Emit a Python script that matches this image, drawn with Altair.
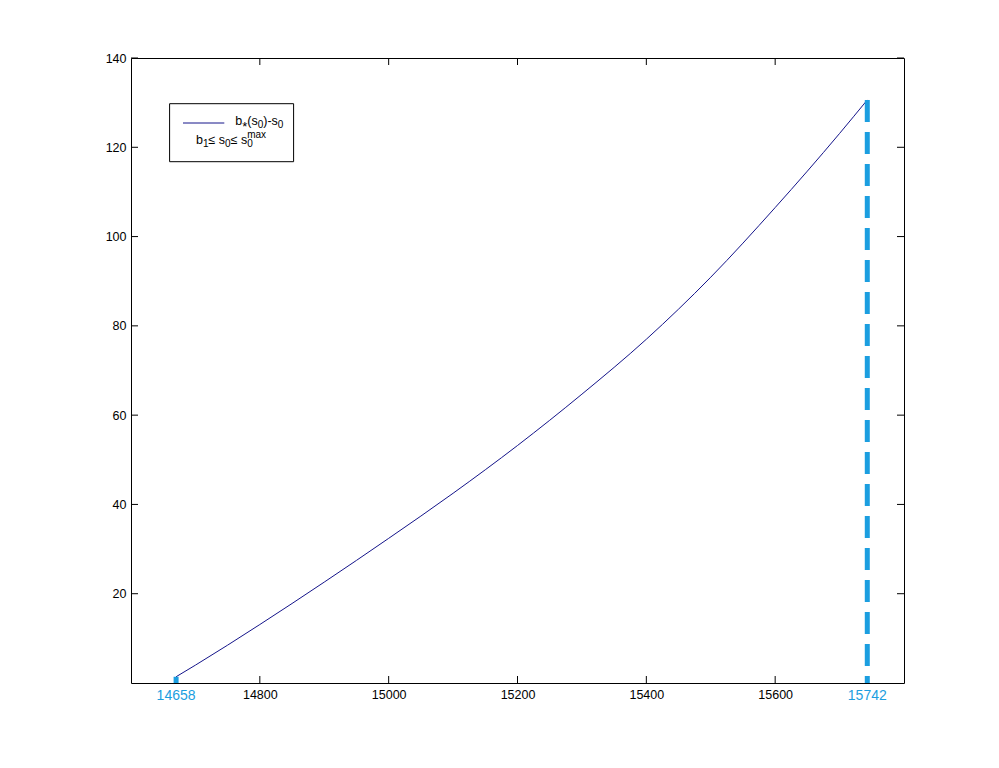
import altair as alt
import pandas as pd

# curve b*(s0) - s0
s0 = [14670, 14700, 14800, 14900, 15000, 15100, 15200, 15300, 15400, 15500, 15600, 15700, 15743]
gap = [1.4, 4.0, 13.1, 22.6, 32.4, 42.5, 53.2, 64.7, 77.0, 90.9, 106.5, 123.1, 130.6]

x_ticks = [14800, 15000, 15200, 15400, 15600]
y_ticks = [20, 40, 60, 80, 100, 120, 140]

bound_x = [14670, 15743]
bound_y = [1.4, 130.6]
bound_labels = ["14658", "15742"]

# legend text pieces: (text, kind) where kind is main / sub / sup / star
legend_line = [("b", "main"), ("*", "star"), ("(s", "main"), ("0", "sub"), (")-s", "main"), ("0", "sub")]
legend_range = [("b", "main"), ("1", "sub"), ("≤ s", "main"), ("0", "sub"), ("≤ s", "main"),
                ("0", "sub"), ("max", "sup")]

W, H = 773, 625
NAVY = "#14148a"
BLUE = "#1b9ee0"
FONT = "Liberation Sans"
SIZES = {"main": 12.5, "sub": 10, "sup": 10, "star": 13}
ADV = {"b": 0.556, "s": 0.5, "(": 0.333, ")": 0.333, "-": 0.333, "0": 0.556, "1": 0.556,
       "*": 0.389, "≤": 0.548, " ": 0.278, "m": 0.833, "a": 0.556, "x": 0.5}


def layout(pieces, x0, base, offsets):
    rows, x, prev_x = [], x0, x0
    for txt, kind in pieces:
        size = SIZES[kind]
        if kind == "sup":
            x = prev_x  # superscript stacked over the preceding subscript
        rows.append({"t": txt, "px": x, "py": base + offsets[kind], "fs": size})
        prev_x = x
        x += sum(ADV.get(c, 0.55) for c in txt) * size
    return rows


xs = alt.Scale(domain=[14600, 15800], nice=False, zero=False)
ys = alt.Scale(domain=[0, 140], nice=False, zero=False)

curve_df = pd.DataFrame({"s0": s0, "gap": gap})
bound_df = pd.DataFrame({"bx": bound_x, "by": bound_y, "label": bound_labels})
xt_df = pd.DataFrame({"t": x_ticks})
yt_df = pd.DataFrame({"t": y_ticks})
one = pd.DataFrame({"a": [0]})
offs = {"main": 0, "sub": 3, "sup": -6, "star": 5.5}
leg_df = pd.DataFrame(layout(legend_line, 104.3, 67.0, offs) +
                      layout(legend_range, 65, 86.4, offs))

curve = alt.Chart(curve_df).mark_line(color=NAVY, strokeWidth=1, interpolate="monotone").encode(
    x=alt.X("s0:Q", scale=xs, axis=alt.Axis(values=x_ticks, format="d", ticks=False, domain=False,
                                            grid=False, labelPadding=5, labelFontSize=12.5, labelFont=FONT,
                                            labelColor="black", title=None)),
    y=alt.Y("gap:Q", scale=ys, axis=alt.Axis(values=y_ticks, format="d", ticks=False, domain=False,
                                             grid=False, labelPadding=5, labelFontSize=12.5, labelFont=FONT,
                                             labelColor="black", title=None)),
)

bounds = alt.Chart(bound_df).mark_rule(color=BLUE, strokeWidth=5, strokeDash=[22, 10]).encode(
    x=alt.X("bx:Q", scale=xs), y=alt.Y("by:Q", scale=ys), y2=alt.datum(0)
)

bound_text = alt.Chart(bound_df).mark_text(color=BLUE, fontSize=14, font=FONT, baseline="top", align="center").encode(
    x=alt.X("bx:Q", scale=xs), y=alt.value(H + 6), text="label:N"
)

xt_bottom = alt.Chart(xt_df).mark_rule(color="black", strokeWidth=1).encode(
    x=alt.X("t:Q", scale=xs), y=alt.value(H), y2=alt.value(H - 7))
xt_top = alt.Chart(xt_df).mark_rule(color="black", strokeWidth=1).encode(
    x=alt.X("t:Q", scale=xs), y=alt.value(0), y2=alt.value(7))
yt_left = alt.Chart(yt_df).mark_rule(color="black", strokeWidth=1).encode(
    y=alt.Y("t:Q", scale=ys), x=alt.value(0), x2=alt.value(7))
yt_right = alt.Chart(yt_df).mark_rule(color="black", strokeWidth=1).encode(
    y=alt.Y("t:Q", scale=ys), x=alt.value(W), x2=alt.value(W - 7))

leg_box = alt.Chart(one).mark_rect(fill="white", stroke="black", strokeWidth=1).encode(
    x=alt.value(38.6), x2=alt.value(162.6), y=alt.value(45.7), y2=alt.value(103.7))
leg_sample = alt.Chart(one).mark_rule(color=NAVY, strokeWidth=1).encode(
    x=alt.value(52), x2=alt.value(93.3), y=alt.value(65))
leg_text = alt.Chart(leg_df).mark_text(align="left", baseline="alphabetic", font=FONT, color="black").encode(
    x=alt.X("px:Q", scale=None), y=alt.Y("py:Q", scale=None), text="t:N",
    size=alt.Size("fs:Q", scale=None, legend=None))

chart = alt.layer(
    curve, bounds, bound_text, xt_bottom, xt_top, yt_left, yt_right,
    leg_box, leg_sample, leg_text
).properties(
    width=W, height=H,
    autosize=alt.AutoSizeParams(type="none"),
    padding={"left": 123, "top": 50, "right": 80, "bottom": 70},
    background="white",
).configure_view(stroke="black", strokeWidth=1)

chart.save("out.html", embed_options={"renderer": "svg", "actions": False})
